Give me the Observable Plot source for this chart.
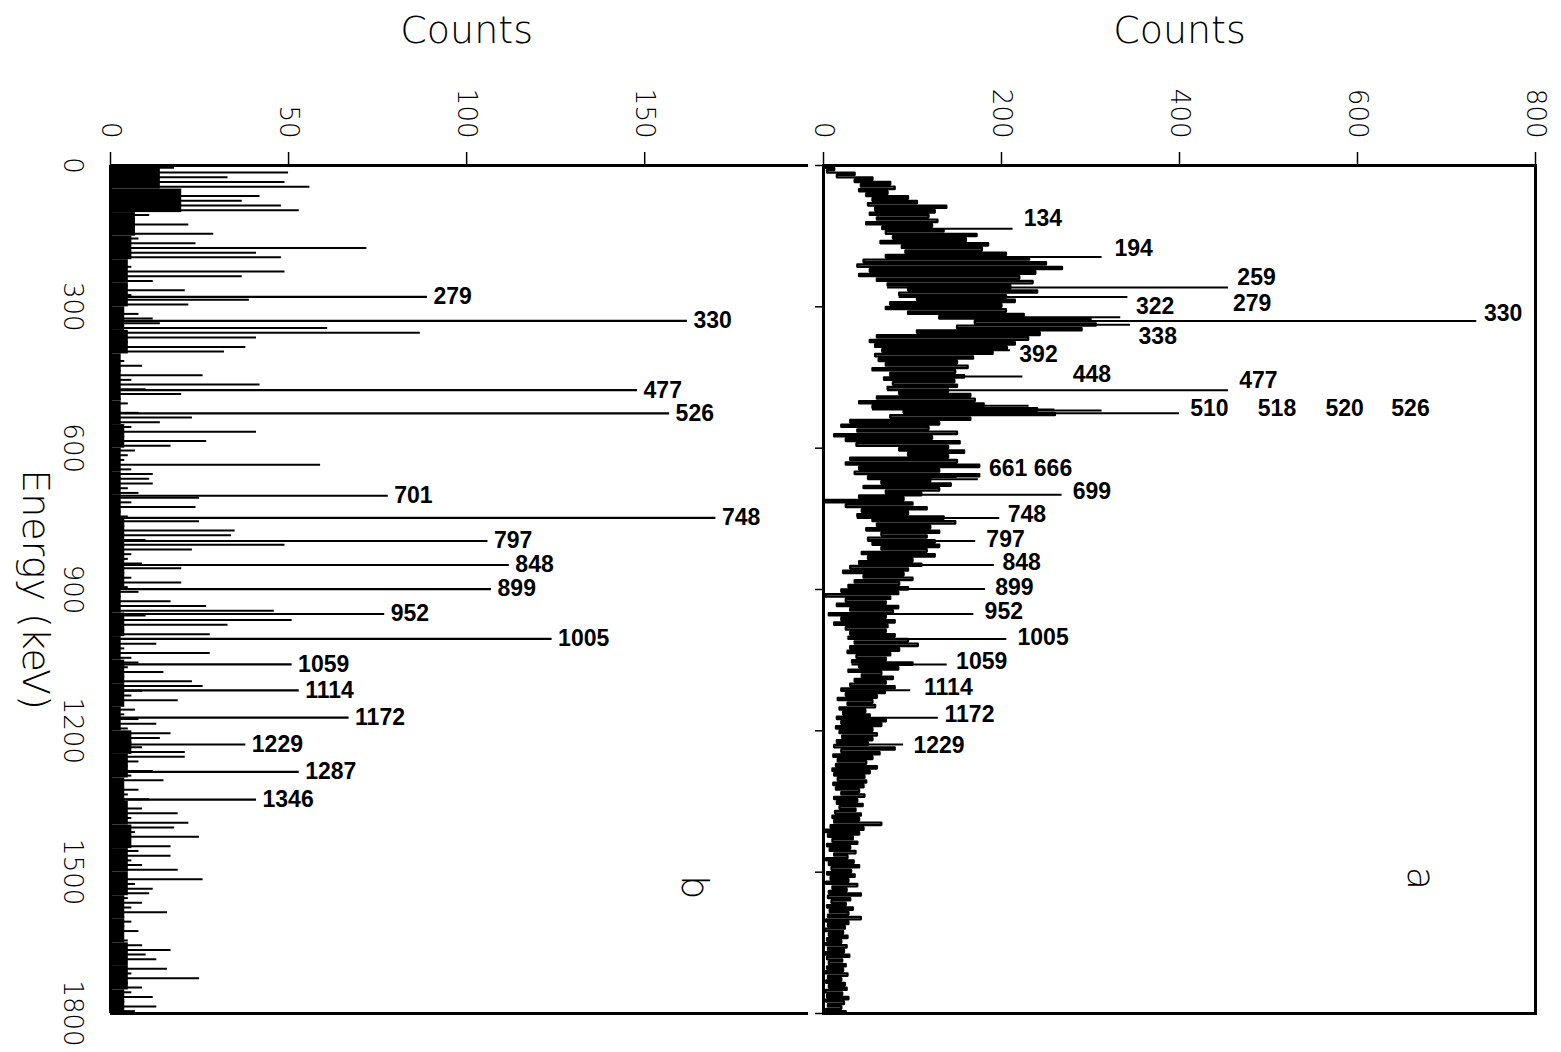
<!DOCTYPE html>
<html><head><meta charset="utf-8">
<script src="https://cdn.jsdelivr.net/npm/d3@7"></script>
<script src="https://cdn.jsdelivr.net/npm/@observablehq/plot@0.6"></script>
<style>
body{margin:0;background:#fff;}
#wrap{position:relative;width:1561px;height:1052px;overflow:hidden;background:#fff;}
#left{position:absolute;left:0;top:0;}
#right{position:absolute;left:815px;top:0;}
svg{overflow:visible;}
</style></head><body><div id="wrap"><div id="left"></div><div id="right"></div></div>
<script>
// ---- axes ----
const energyTicks = [0, 300, 600, 900, 1200, 1500, 1800];
const countTicksB = [0, 50, 100, 150];
const countTicksA = [0, 200, 400, 600, 800];

// ---- 10 keV bin grid (bin start energies, keV) ----
const binEnergy = [
  0,10,20,30,40,50,60,70,80,90, 100,110,120,130,140,150,160,170,180,190,
  200,210,220,230,240,250,260,270,280,290, 300,310,320,330,340,350,360,370,380,390,
  400,410,420,430,440,450,460,470,480,490, 500,510,520,530,540,550,560,570,580,590,
  600,610,620,630,640,650,660,670,680,690, 700,710,720,730,740,750,760,770,780,790,
  800,810,820,830,840,850,860,870,880,890, 900,910,920,930,940,950,960,970,980,990,
  1000,1010,1020,1030,1040,1050,1060,1070,1080,1090, 1100,1110,1120,1130,1140,1150,1160,1170,1180,1190,
  1200,1210,1220,1230,1240,1250,1260,1270,1280,1290, 1300,1310,1320,1330,1340,1350,1360,1370,1380,1390,
  1400,1410,1420,1430,1440,1450,1460,1470,1480,1490, 1500,1510,1520,1530,1540,1550,1560,1570,1580,1590,
  1600,1610,1620,1630,1640,1650,1660,1670,1680,1690, 1700,1710,1720,1730,1740,1750,1760,1770,1780,1790
];

// ---- panel a : singles spectrum, per-bin min / max of the noisy trace ----
const loA = [
  0,4,15,35,42,40,48,55,50,58,      52,60,48,66,70,78,64,88,92,70,
  45,38,52,40,60,72,95,85,105,75,   70,95,130,170,150,105,60,52,58,66,
  58,62,70,55,75,68,78,72,85,60,    40,55,90,75,30,20,38,12,25,37,
  85,95,30,25,40,35,50,65,45,70,    40,0,25,43,38,55,60,48,65,50,
  55,65,43,50,40,30,22,45,35,28,    20,2,25,15,30,6,20,12,25,30,
  28,35,30,27,37,32,40,28,43,35,    30,20,25,16,27,18,22,15,20,14,
  18,21,15,12,20,11,16,14,10,12,    16,11,14,20,12,15,18,13,10,12,
  8,0,5,10,4,7,12,3,6,9,            4,8,3,10,6,5,9,4,7,5,
  3,5,2,6,4,3,5,2,4,6,              4,2,5,3,6,2,4,3,5,3
];
const hiA = [
  12,35,55,75,80,72,95,105,138,125,        118,128,122,135,172,160,185,178,205,231,
  250,268,238,220,235,210,240,205,215,200, 205,225,300,306,290,243,230,215,206,190,
  168,150,162,148,158,147,150,140,165,170, 180,240,260,165,130,118,150,122,153,140,
  158,140,150,175,130,175,120,143,130,110, 90,100,116,95,135,148,120,130,116,125,
  130,116,125,100,110,95,90,100,85,95,     84,75,70,84,78,70,80,72,70,80,
  95,106,85,75,70,100,84,65,78,70,         80,69,60,55,58,47,52,70,65,55,
  60,55,50,80,63,55,48,60,52,46,           48,45,40,46,38,44,36,42,40,65,
  45,40,33,38,30,36,27,34,40,31,           35,28,38,26,42,30,25,33,28,42,
  28,24,22,27,20,26,23,29,21,25,           22,27,20,24,26,21,28,23,20,25
];
const peakEnergyA = [134,194,259,279,322,330,338,392,448,477,510,518,520,526,661,666,699,748,797,848,899,952,1005,1059,1114,1172,1229];
const peakCountA  = [213,313,455,342,334,734,345,210,224,455,231,260,313,400,150,174,268,198,171,192,182,169,206,139,98,129,90];
const labelTextA   = ["134","194","259","279","322","330","338","392","448","477","510","518","520","526","661 666","699","748","797","848","899","952","1005","1059","1114","1172","1229"];
const labelEnergyA = [112,176,238,294,300,314,363,401,443,456,517,517,517,517,643,692,741,794,844,896,947,1003,1054,1109,1165,1231];
const labelCountA  = [225,327,465,460,351,742,354,220,280,467,412,488,564,638,186,280,207,183,201,193,181,218,149,113,136,101];

// ---- panel b : coincidence spectrum ----
const countB = [
  18,50,33,49,56,15,42,37,48,53,   11,7,22,5,29,8,24,72,41,48,
  4,6,49,37,12,5,21,6,39,22,       3,8,12,14,61,87,41,5,38,32,
  1,4,9,3,26,6,42,10,20,3,         5,2,8,23,14,6,41,4,27,17,
  7,5,4,59,6,12,11,12,5,8,         25,6,24,3,5,25,4,35,34,10,
  49,23,6,5,9,20,4,6,20,5,         8,3,17,27,46,10,51,33,4,28,
  5,13,4,28,6,8,5,15,4,23,         26,9,6,19,3,7,4,8,13,5,
  17,14,6,9,21,21,8,5,12,6,        15,3,8,5,11,4,9,19,6,22,
  18,7,25,5,17,8,17,6,9,19,        4,26,7,12,11,5,9,6,16,4,
  6,4,8,3,5,9,17,10,13,4,          16,6,25,5,9,6,12,4,13,7
];
const baseEnergyB = [0,50,100,150,200,250,300,350,400,450,500,550,600,650,700,750,800,850,900,950,1000,1050,1100,1150,1200,1250,1300,1350,1400,1450,1500,1550,1600,1650,1700,1750];
const baseCountB  = [14,20,7,6,5,5,4,5,3,3,3,4,3,3,3,4,4,4,3,4,3,4,4,3,6,5,4,5,6,5,5,4,4,5,5,4];
const peakEnergyB = [279,330,477,526,701,748,797,848,899,952,1005,1059,1114,1172,1229,1287,1346];
const peakCountB  = [89,162,148,157,78,170,106,112,107,77,124,51,53,67,38,53,41];

// ---- tables ----
const binW = 10;
const traceA = [];
binEnergy.forEach((e, i) => { traceA.push({e, c: loA[i]}); traceA.push({e: e + binW / 2, c: hiA[i]}); });
traceA.push({e: 1800, c: loA[loA.length - 1]});
const peaksA = peakEnergyA.map((e, i) => ({e, c: peakCountA[i], base: loA[Math.floor(e / binW)]}));
const labelsA = labelTextA.map((t, i) => ({t, e: labelEnergyA[i], c: labelCountA[i]}));
const binsB = binEnergy.map((e, i) => ({e, c: countB[i]}));
const baseB = baseEnergyB.map((e, i) => ({e, c: baseCountB[i]}));
const peaksB = peakEnergyB.map((e, i) => ({e, c: peakCountB[i]}));

const thin = {fontFamily: "'DejaVu Sans', sans-serif", fontWeight: 200, fill: "black"};
const bold = {fontFamily: "'Liberation Sans', Arial, sans-serif", fontWeight: "bold", fontSize: 23, fill: "black"};
const H = 1052, MT = 165, MB = 39;

const left = Plot.plot({
  width: 815, height: H, marginLeft: 110, marginRight: 7, marginTop: MT, marginBottom: MB,
  x: {domain: [0, 196], axis: null},
  y: {domain: [0, 1800], reverse: true, axis: null},
  style: {background: "white", overflow: "visible"},
  marks: [
    Plot.rectX(baseB, {x1: 0, x2: "c", y1: "e", y2: d => d.e + 50, fill: "black"}),
    Plot.ruleY(binsB, {y: d => d.e + binW / 2, x1: 0, x2: "c", stroke: "black", strokeWidth: 2}),
    Plot.ruleY(peaksB, {y: "e", x1: 0, x2: "c", stroke: "black", strokeWidth: 2.2}),
    Plot.text(peaksB, {y: "e", x: "c", text: d => String(d.e), dx: 6, textAnchor: "start", lineAnchor: "middle", ...bold}),
    Plot.ruleX([0], {stroke: "black", strokeWidth: 3}),
    Plot.ruleY([0, 1800], {stroke: "black", strokeWidth: 3}),
    Plot.axisX({anchor: "top", ticks: countTicksB, tickSize: 14, tickFormat: () => "", label: null, strokeWidth: 1.5}),
    Plot.text(countTicksB, {x: d => d, y: d => 0, text: d => String(d), dy: -27, rotate: 90, textAnchor: "end", lineAnchor: "middle", fontSize: 26, ...thin}),
    Plot.text(energyTicks, {x: d => 0, y: d => d, text: d => String(d), dx: -38, rotate: 90, textAnchor: "middle", lineAnchor: "middle", fontSize: 26, ...thin}),
    Plot.text(["Counts"], {x: d => 100, y: d => 0, dy: -135, textAnchor: "middle", lineAnchor: "middle", fontSize: 38, ...thin}),
    Plot.text(["Energy (keV)"], {frameAnchor: "left", dx: -75, rotate: 90, textAnchor: "middle", lineAnchor: "middle", fontSize: 38, ...thin}),
    Plot.text(["b"], {x: d => 164, y: d => 1532, rotate: 90, textAnchor: "middle", lineAnchor: "middle", fontSize: 38, fontFamily: "'DejaVu Sans', sans-serif", fontWeight: 300})
  ]
});

const right = Plot.plot({
  width: 746, height: H, marginLeft: 8, marginRight: 26, marginTop: MT, marginBottom: MB,
  x: {domain: [0, 800], axis: null},
  y: {domain: [0, 1800], reverse: true, axis: null},
  style: {background: "white", overflow: "visible"},
  marks: [
    Plot.lineX(traceA, {x: "c", y: "e", curve: "step-before", stroke: "black", strokeWidth: 2.3}),
    Plot.ruleY(peaksA, {y: "e", x1: "base", x2: "c", stroke: "black", strokeWidth: 2}),
    Plot.text(labelsA, {y: "e", x: "c", text: "t", textAnchor: "start", lineAnchor: "middle", ...bold}),
    Plot.frame({stroke: "black", strokeWidth: 3}),
    Plot.axisX({anchor: "top", ticks: countTicksA, tickSize: 14, tickFormat: () => "", label: null, strokeWidth: 1.5}),
    Plot.axisY({anchor: "left", ticks: energyTicks, tickSize: 8, tickFormat: () => "", label: null, strokeWidth: 1.5}),
    Plot.text(countTicksA, {x: d => d, y: d => 0, text: d => String(d), dy: -27, rotate: 90, textAnchor: "end", lineAnchor: "middle", fontSize: 26, ...thin}),
    Plot.text(["Counts"], {x: d => 400, y: d => 0, dy: -135, textAnchor: "middle", lineAnchor: "middle", fontSize: 38, ...thin}),
    Plot.text(["a"], {x: d => 670, y: d => 1513, rotate: 90, textAnchor: "middle", lineAnchor: "middle", fontSize: 38, fontFamily: "'DejaVu Sans', sans-serif", fontWeight: 300})
  ]
});

document.getElementById("left").appendChild(left);
document.getElementById("right").appendChild(right);
</script>
</body></html>
